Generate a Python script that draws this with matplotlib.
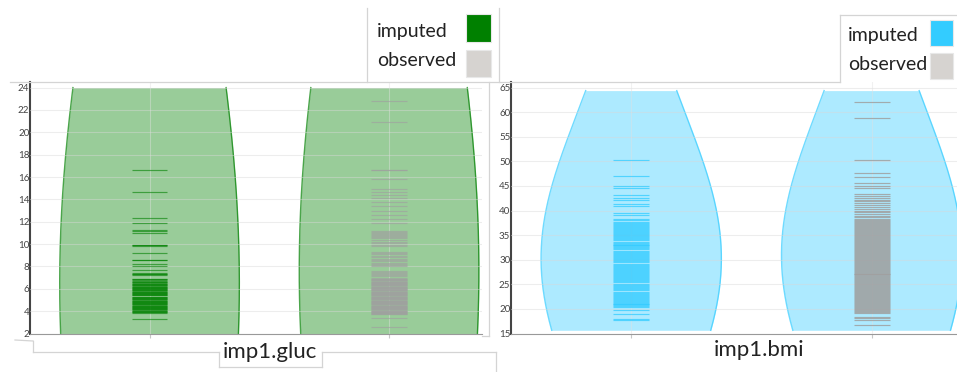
import matplotlib
matplotlib.use("Agg")
import matplotlib.pyplot as plt
import numpy as np
from matplotlib.patches import Rectangle
from matplotlib.lines import Line2D

plt.rcParams["font.family"] = ["Lato", "DejaVu Sans"]

W, H = 957, 372

# values (estimated; the dense blocks are solid in the picture)
gluc_imputed = [
    16.6, 14.65, 12.3, 11.9, 11.3, 11.2, 11.0, 9.9, 9.9, 9.85, 9.2, 8.6, 8.55, 8.25, 8.0,
    7.65, 7.4, 7.35, 7.3, 7.2,
    6.9, 6.85, 6.8, 6.7, 6.65, 6.6, 6.5, 6.45, 6.4, 6.35, 6.3, 6.25, 6.2, 6.15, 6.1, 6.05, 6.0,
    5.95, 5.9, 5.85, 5.8, 5.75, 5.7, 5.65, 5.6, 5.55, 5.5, 5.45, 5.4, 5.3, 5.25, 5.2, 5.15,
    5.1, 5.05, 5.0, 4.95, 4.9, 4.85, 4.8, 4.75, 4.7, 4.65, 4.6, 4.55, 4.5, 4.45, 4.4, 4.35,
    4.3, 4.25, 4.2, 4.15, 4.1, 4.05, 4.0, 3.95, 3.9, 3.85,
    3.3,
]
gluc_observed = [
    22.8, 20.9, 16.65, 16.6, 15.85, 14.9, 14.65, 14.4, 14.1, 13.75, 13.4, 13.0, 12.6, 12.25,
    11.9, 11.2, 11.1, 11.0, 10.9, 10.8, 10.7, 10.6, 10.5, 10.35, 10.2, 10.1, 9.9, 9.8,
    9.3, 9.2, 9.1, 8.95, 8.8, 8.7, 8.6, 8.5, 8.3, 8.2, 8.1, 8.0,
    7.6, 7.5, 7.4, 7.3, 7.2, 7.1, 7.0,
    6.9, 6.85, 6.8, 6.75, 6.7, 6.65, 6.6, 6.55, 6.5, 6.45, 6.4, 6.35, 6.3, 6.25, 6.2, 6.15,
    6.1, 6.05, 6.0, 5.95, 5.9, 5.85, 5.8, 5.75, 5.7, 5.65, 5.6, 5.55, 5.5, 5.45, 5.4, 5.35,
    5.3, 5.25, 5.2, 5.15, 5.1, 5.05, 5.0, 4.95, 4.9, 4.85, 4.8, 4.75, 4.7, 4.65, 4.6, 4.55,
    4.5, 4.45, 4.4, 4.35, 4.3, 4.25, 4.2, 4.15, 4.1, 4.05, 4.0, 3.95, 3.9, 3.85, 3.8, 3.75, 3.7,
    3.4, 2.6,
]
bmi_imputed = [
    50.2, 47.0, 45.1, 44.6, 43.2, 42.5, 42.1, 41.3, 40.9, 39.5, 39.0, 38.3, 38.0,
    37.7, 37.5, 37.3, 37.1, 36.9, 36.7, 36.5, 36.3, 36.1, 35.9, 35.7, 35.5, 35.3, 35.1,
    34.9, 34.7, 34.5, 34.3, 34.1, 33.7, 33.5, 33.3, 33.1, 32.9, 32.7, 32.5, 32.3, 32.1,
    31.7, 31.5, 31.3, 31.1, 30.9, 30.7, 30.5, 30.3, 30.1, 29.9, 29.7, 29.5, 29.1,
    28.9, 28.7, 28.5, 28.3, 28.1, 27.9, 27.7, 27.5, 27.3, 27.1, 26.9, 26.7, 26.5, 26.3,
    26.1, 25.9, 25.7, 25.5, 25.1, 24.9, 24.7, 24.5, 24.3, 24.1, 23.9, 23.5, 23.3, 23.1,
    22.9, 22.7, 22.5, 22.3, 22.1, 21.9, 21.7, 21.5, 21.3, 21.1, 20.9, 20.7, 20.5, 20.4,
    19.7, 19.05, 17.9, 17.8,
]
bmi_observed = [
    62.0, 58.9, 50.2, 47.6, 46.9, 45.7, 45.1, 44.6, 43.4,
    43.0, 42.6, 42.2, 41.9, 41.5, 41.1, 40.8, 40.4, 40.0, 39.7, 39.3, 38.9, 38.6, 38.2,
    38.0, 37.8, 37.6, 37.4, 37.2, 37.0, 36.8, 36.6, 36.4, 36.2, 36.0, 35.8, 35.6, 35.4,
    35.2, 35.0, 34.8, 34.6, 34.4, 34.2, 34.0, 33.8, 33.6, 33.4, 33.2, 33.0, 32.8, 32.6,
    32.4, 32.2, 32.0, 31.8, 31.6, 31.4, 31.2, 31.0, 30.8, 30.6, 30.4, 30.2, 30.0, 29.8,
    29.6, 29.4, 29.2, 29.0, 28.8, 28.6, 28.4, 28.2, 28.0, 27.8, 27.6, 27.4, 27.2, 27.0,
    26.8, 26.6, 26.4, 26.2, 26.0, 25.8, 25.6, 25.4, 25.2, 25.0, 24.8, 24.6, 24.4, 24.2,
    24.0, 23.8, 23.6, 23.4, 23.2, 23.0, 22.8, 22.6, 22.4, 22.2, 22.0, 21.8, 21.6, 21.4,
    21.2, 21.0, 20.8, 20.6, 20.4, 20.2, 20.0, 19.8, 19.6, 19.4, 19.2,
    18.4, 18.1, 17.7, 16.7,
]

gluc_ticks = [2, 4, 6, 8, 10, 12, 14, 16, 18, 20, 22, 24]
bmi_ticks = [15, 20, 25, 30, 35, 40, 45, 50, 55, 60, 65]
groups = ["imputed", "observed"]


def fx(x):
    return x / W


def fy(y):
    return 1 - y / H


def kde(vals, grid, bw):
    v = np.asarray(vals)
    return np.exp(-0.5 * ((grid[:, None] - v[None, :]) / bw) ** 2).sum(axis=1)


def violin_panel(ax, data, span, bw, color, pt_colors, pt_alpha, half=0.375, strip=0.075):
    grid = np.linspace(span[0], span[1], 400)
    for i, vals in enumerate(data):
        d = kde(vals, grid, bw)
        w = d / d.max() * half
        ax.fill_betweenx(grid, i - w, i + w, color=color, alpha=0.4, lw=0, zorder=1)
        ax.plot(i - w, grid, color=color, lw=1.0, alpha=0.7, zorder=2)
        ax.plot(i + w, grid, color=color, lw=1.0, alpha=0.7, zorder=2)
        ax.hlines(vals, i - strip, i + strip, colors=pt_colors[i], lw=0.85, alpha=pt_alpha[i], zorder=4)


def style_axes(ax, ticks, ylim, xlim):
    ax.set_ylim(*ylim)
    ax.set_xlim(*xlim)
    ax.set_yticks(ticks)
    ax.set_yticklabels([str(t) for t in ticks])
    ax.set_xticks([0, 1])
    ax.set_xticklabels(["", ""])
    ax.tick_params(axis="y", length=0, pad=0.5, labelsize=7, labelcolor="#444444")
    ax.tick_params(axis="x", length=3, color="#c8c8c8", width=0.8)
    for t in ticks:
        ax.axhline(t, color="#d8d8d8", lw=0.8, alpha=0.45, zorder=3)
    for c in [0, 1]:
        ax.axvline(c, color="#e0e0e0", lw=0.8, alpha=0.45, zorder=3)
    ax.spines["top"].set_visible(False)
    ax.spines["right"].set_visible(False)
    ax.spines["left"].set_color("#444444")
    ax.spines["left"].set_linewidth(1.5)
    ax.spines["bottom"].set_color("#999999")
    ax.spines["bottom"].set_linewidth(0.8)
    ax.set_facecolor("white")


fig = plt.figure(figsize=(W / 100, H / 100), dpi=100)

# left panel: glucose
ax1 = fig.add_axes([fx(30), fy(333.5), fx(482 - 30), (333.5 - 82) / H])
violin_panel(ax1, [gluc_imputed, gluc_observed], (2, 24), 31, "#008000",
             ["#008000", "#a0a0a0"], [0.6, 0.65])
style_axes(ax1, gluc_ticks, (2, 24.5), (-0.499, 1.388))

# right panel: bmi
ax2 = fig.add_axes([fx(511), fy(333.5), fx(957 - 511), (333.5 - 82) / H])
violin_panel(ax2, [bmi_imputed, bmi_observed], (15.65, 64.4), 28.3, "#33ccff",
             ["#33ccff", "#a0a0a0"], [0.75, 0.85])
style_axes(ax2, bmi_ticks, (15, 66.15), (-0.5, 1.355))

fig.text(fx(270), fy(352), "imp1.gluc", fontsize=16, ha="center", va="center", color="#222222")
fig.text(fx(759), fy(350), "imp1.bmi", fontsize=16, ha="center", va="center", color="#222222")


def legend(x_text, x_sw, ys, sw_boxes, colors):
    for lab, y in zip(groups, ys):
        fig.text(fx(x_text), fy(y), lab, fontsize=14, ha="left", va="center", color="#222222")
    for (y0, y1), c in zip(sw_boxes, colors):
        fig.patches.append(Rectangle((fx(x_sw[0]), fy(y1)), fx(x_sw[1] - x_sw[0]), (y1 - y0) / H,
                                     transform=fig.transFigure, facecolor=c, edgecolor="#e8e8e8",
                                     lw=0.8, figure=fig))


legend(376.7, (466, 491), [31, 60], [(14.3, 41.7), (50, 76.7)], ["#008000", "#d6d3d0"])
legend(848.3, (930, 953), [35, 64], [(20, 45.7), (53.3, 79)], ["#33ccff", "#d6d3d0"])

# faint frame lines from the screenshot
frame = [
    ((10, 840), (82, 82)),
    ((367, 367), (8, 82)),
    ((499, 499), (8, 82)),
    ((840, 840), (15, 82)),
    ((840, 957), (15, 15)),
    ((489, 489), (82, 336)),
    ((482, 489), (336, 336)),
    ((15, 33), (340, 341)),
    ((33, 33), (341, 352)),
    ((33, 219), (352, 352)),
    ((219, 219), (352, 367)),
    ((219, 322), (367, 367)),
    ((322, 322), (352, 367)),
    ((322, 496), (352, 352)),
    ((496, 496), (352, 372)),
]
for xs, ys in frame:
    fig.add_artist(Line2D([fx(x) for x in xs], [fy(y) for y in ys], transform=fig.transFigure,
                          color="#d4d4d4", lw=0.9))

fig.savefig("out.png", dpi=100)
